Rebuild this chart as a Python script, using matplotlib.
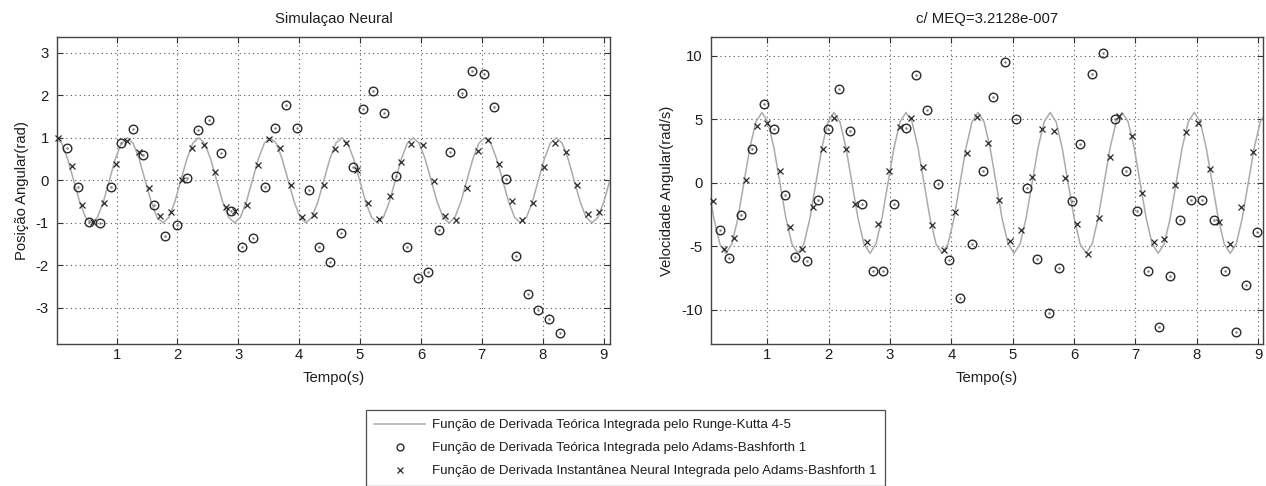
import numpy as np
import matplotlib
matplotlib.use("Agg")
import matplotlib.pyplot as plt

plt.rcParams["font.family"] = ["Liberation Sans", "DejaVu Sans"]
plt.rcParams["font.size"] = 10.7
plt.rcParams["axes.unicode_minus"] = False

# Runge-Kutta 4-5 reference, sampled every LINE_DT seconds
LINE_DT = 0.0979
pos_rk = [
    1.0, 0.87, 0.5, 0.0, -0.5, -0.87, -1.0, -0.87, -0.5, 0.0, 0.5, 0.87,
    1.0, 0.87, 0.5, 0.0, -0.5, -0.87, -1.0, -0.87, -0.5, 0.0, 0.5, 0.87,
    1.0, 0.87, 0.5, 0.0, -0.5, -0.87, -1.0, -0.87, -0.5, 0.0, 0.5, 0.87,
    1.0, 0.87, 0.5, 0.0, -0.5, -0.87, -1.0, -0.87, -0.5, 0.0, 0.5, 0.87,
    1.0, 0.87, 0.5, 0.0, -0.5, -0.87, -1.0, -0.87, -0.5, 0.0, 0.5, 0.87,
    1.0, 0.87, 0.5, 0.0, -0.5, -0.87, -1.0, -0.87, -0.5, 0.0, 0.5, 0.87,
    1.0, 0.87, 0.5, 0.0, -0.5, -0.87, -1.0, -0.87, -0.5, 0.0, 0.5, 0.87,
    1.0, 0.87, 0.5, 0.0, -0.5, -0.87, -1.0, -0.87, -0.5, 0.0,
]
pos_rk_t0 = 0.0
vel_rk = [
    0.0, -2.78, -4.81, -5.55, -4.81, -2.78, 0.0, 2.78, 4.81, 5.55, 4.81, 2.78,
    0.0, -2.78, -4.81, -5.55, -4.81, -2.78, 0.0, 2.78, 4.81, 5.55, 4.81, 2.78,
    0.0, -2.78, -4.81, -5.55, -4.81, -2.78, 0.0, 2.78, 4.81, 5.55, 4.81, 2.78,
    0.0, -2.78, -4.81, -5.55, -4.81, -2.78, 0.0, 2.78, 4.81, 5.55, 4.81, 2.78,
    0.0, -2.78, -4.81, -5.55, -4.81, -2.78, 0.0, 2.78, 4.81, 5.55, 4.81, 2.78,
    0.0, -2.78, -4.81, -5.55, -4.81, -2.78, 0.0, 2.78, 4.81, 5.55, 4.81, 2.78,
    0.0, -2.78, -4.81, -5.55, -4.81, -2.78, 0.0, 2.78, 4.81, 5.55, 4.81, 2.78,
    0.0, -2.78, -4.81, -5.55, -4.81, -2.78, 0.0, 2.78, 4.81, 5.55,
]
vel_rk_t0 = 0.029

# Adams-Bashforth 1 with the theoretical derivative
pos_ab_t = [
    0.19, 0.36, 0.54, 0.72, 0.91, 1.08, 1.27, 1.43, 1.62, 1.80,
    2.00, 2.16, 2.34, 2.52, 2.71, 2.88, 3.06, 3.24, 3.43, 3.60,
    3.79, 3.96, 4.16, 4.32, 4.50, 4.68, 4.88, 5.05, 5.22, 5.40,
    5.59, 5.77, 5.95, 6.12, 6.30, 6.48, 6.67, 6.84, 7.04, 7.20,
    7.39, 7.57, 7.76, 7.93, 8.11, 8.29,
]
pos_ab = [
    0.76, -0.16, -0.99, -1.01, -0.16, 0.87, 1.20, 0.60, -0.57, -1.31,
    -1.05, 0.06, 1.19, 1.42, 0.64, -0.73, -1.56, -1.35, -0.15, 1.23,
    1.76, 1.23, -0.22, -1.56, -1.93, -1.24, 0.31, 1.68, 2.11, 1.58,
    0.09, -1.56, -2.29, -2.16, -1.16, 0.66, 2.05, 2.58, 2.49, 1.72,
    0.02, -1.78, -2.67, -3.06, -3.27, -3.60,
]
vel_ab_t = [
    0.22, 0.38, 0.57, 0.75, 0.94, 1.10, 1.28, 1.45, 1.64, 1.83,
    1.99, 2.17, 2.35, 2.55, 2.72, 2.89, 3.07, 3.26, 3.42, 3.61,
    3.78, 3.96, 4.14, 4.33, 4.51, 4.68, 4.87, 5.05, 5.23, 5.40,
    5.59, 5.76, 5.96, 6.10, 6.30, 6.47, 6.67, 6.84, 7.03, 7.21,
    7.39, 7.57, 7.73, 7.91, 8.09, 8.28, 8.46, 8.64, 8.81, 8.99,
]
vel_ab = [
    -3.74, -5.89, -2.50, 2.68, 6.21, 4.21, -0.92, -5.84, -6.16, -1.37,
    4.21, 7.37, 4.10, -1.68, -6.95, -6.95, -1.63, 4.29, 8.50, 5.74,
    -0.05, -6.05, -9.08, -4.79, 0.92, 6.74, 9.55, 5.00, -0.37, -5.97,
    -10.26, -6.68, -1.42, 3.05, 8.58, 10.26, 5.00, 0.95, -2.21, -6.95,
    -11.32, -7.37, -2.95, -1.37, -1.37, -2.89, -6.95, -11.76, -8.08, -3.87,
]

# Adams-Bashforth 1 with the neural network derivative
pos_nn_t = [
    0.04, 0.26, 0.43, 0.61, 0.80, 0.99, 1.17, 1.36, 1.53, 1.72,
    1.89, 2.07, 2.24, 2.44, 2.61, 2.80, 2.95, 3.15, 3.33, 3.51,
    3.69, 3.87, 4.05, 4.24, 4.41, 4.59, 4.77, 4.95, 5.13, 5.31,
    5.49, 5.68, 5.84, 6.03, 6.21, 6.40, 6.58, 6.76, 6.94, 7.11,
    7.29, 7.49, 7.66, 7.84, 8.02, 8.20, 8.38, 8.56, 8.74, 8.93,
]
pos_nn = [
    1.00, 0.33, -0.59, -0.98, -0.53, 0.39, 0.92, 0.66, -0.18, -0.85,
    -0.75, 0.01, 0.76, 0.82, 0.19, -0.62, -0.73, -0.57, 0.37, 0.98,
    0.76, -0.10, -0.87, -0.81, -0.10, 0.74, 0.87, 0.25, -0.54, -0.91,
    -0.38, 0.43, 0.86, 0.82, -0.02, -0.85, -0.93, -0.18, 0.70, 0.95,
    0.39, -0.49, -0.93, -0.54, 0.32, 0.87, 0.66, -0.10, -0.79, -0.75,
]
vel_nn_t = [
    0.11, 0.30, 0.46, 0.65, 0.83, 1.00, 1.20, 1.37, 1.57, 1.74,
    1.91, 2.09, 2.28, 2.43, 2.62, 2.81, 2.99, 3.16, 3.34, 3.53,
    3.69, 3.88, 4.06, 4.25, 4.42, 4.60, 4.77, 4.96, 5.14, 5.32,
    5.48, 5.67, 5.86, 6.04, 6.23, 6.40, 6.58, 6.74, 6.95, 7.11,
    7.30, 7.47, 7.65, 7.82, 8.02, 8.21, 8.37, 8.55, 8.73, 8.92,
]
vel_nn = [
    -1.42, -5.18, -4.32, 0.21, 4.47, 4.74, 0.92, -3.47, -5.18, -1.89,
    2.71, 5.08, 2.71, -1.68, -4.66, -3.21, 0.95, 4.37, 5.08, 1.26,
    -3.34, -5.32, -2.29, 2.37, 5.16, 3.16, -1.32, -4.58, -3.74, 0.47,
    4.21, 4.10, 0.42, -3.26, -5.63, -2.74, 2.05, 5.26, 3.68, -0.79,
    -4.66, -4.39, -0.18, 4.03, 4.74, 1.13, -3.08, -4.79, -1.89, 2.45,
]

labels = [
    "Função de Derivada Teórica Integrada pelo Runge-Kutta 4-5",
    "Função de Derivada Teórica Integrada pelo Adams-Bashforth 1",
    "Função de Derivada Instantânea Neural Integrada pelo Adams-Bashforth 1",
]

LINE_COLOR = "#ababab"
MARK_COLOR = "#2a2a2a"
TEXT_COLOR = "#1e1e1e"
FS = 10.7
LEGEND_FS = 9.6


def draw_panel(ax, t0, rk, ab_t, ab, nn_t, nn):
    t_rk = t0 + LINE_DT * np.arange(len(rk))
    ax.plot(t_rk, rk, color=LINE_COLOR, lw=1.1, label=labels[0], zorder=2)
    ax.plot(ab_t, ab, ls="none", marker="o", ms=6.2, mfc="none",
            mec=MARK_COLOR, mew=1.0, label=labels[1], zorder=3, clip_on=False)
    ax.plot(ab_t, ab, ls="none", marker=".", ms=1.5, color="#777777",
            zorder=3, clip_on=False)
    ax.plot(nn_t, nn, ls="none", marker="x", ms=4.8, mec=MARK_COLOR,
            mew=0.9, label=labels[2], zorder=4, clip_on=False)
    ax.grid(True, color="#555555", ls=(0, (1, 3)), lw=0.8)
    ax.tick_params(direction="in", top=True, right=True, length=4,
                   width=0.8, colors="#333333", labelcolor=TEXT_COLOR,
                   labelsize=FS)
    ax.tick_params(axis="x", pad=3)
    ax.tick_params(axis="y", pad=6)
    for spine in ax.spines.values():
        spine.set_edgecolor("#444444")
        spine.set_linewidth(1.0)
    ax.set_xticks(range(1, 10))
    ax.set_xlabel("Tempo(s)", fontsize=FS, color=TEXT_COLOR, labelpad=6)


fig = plt.figure(figsize=(12.66, 4.86), dpi=100)
ax1 = fig.add_axes([0.045, 0.292, 0.437, 0.632])
ax2 = fig.add_axes([0.5616, 0.292, 0.436, 0.632])

draw_panel(ax1, pos_rk_t0, pos_rk, pos_ab_t, pos_ab, pos_nn_t, pos_nn)
ax1.set_xlim(0.02, 9.11)
ax1.set_ylim(-3.85, 3.37)
ax1.set_yticks(range(-3, 4))
ax1.set_ylabel("Posição Angular(rad)", fontsize=FS, color=TEXT_COLOR, labelpad=5)
ax1.set_title("Simulaçao Neural", fontsize=FS, color=TEXT_COLOR, pad=10)

draw_panel(ax2, vel_rk_t0, vel_rk, vel_ab_t, vel_ab, vel_nn_t, vel_nn)
ax2.set_xlim(0.08, 9.08)
ax2.set_ylim(-12.7, 11.5)
ax2.set_yticks([-10, -5, 0, 5, 10])
ax2.set_ylabel("Velocidade Angular(rad/s)", fontsize=FS, color=TEXT_COLOR, labelpad=5)
ax2.set_title("c/ MEQ=3.2128e-007", fontsize=FS, color=TEXT_COLOR, pad=10)

handles, _ = ax1.get_legend_handles_labels()
leg = fig.legend(handles, labels, loc="upper center",
                 bbox_to_anchor=(0.494, 0.156), fontsize=LEGEND_FS,
                 frameon=True, fancybox=False, edgecolor="#222222",
                 handlelength=3.8, handletextpad=0.5, borderpad=0.65,
                 labelspacing=0.8, markerscale=0.8, borderaxespad=0)
leg.get_frame().set_linewidth(0.9)
for txt in leg.get_texts():
    txt.set_color(TEXT_COLOR)

fig.savefig("out.png", dpi=100)
